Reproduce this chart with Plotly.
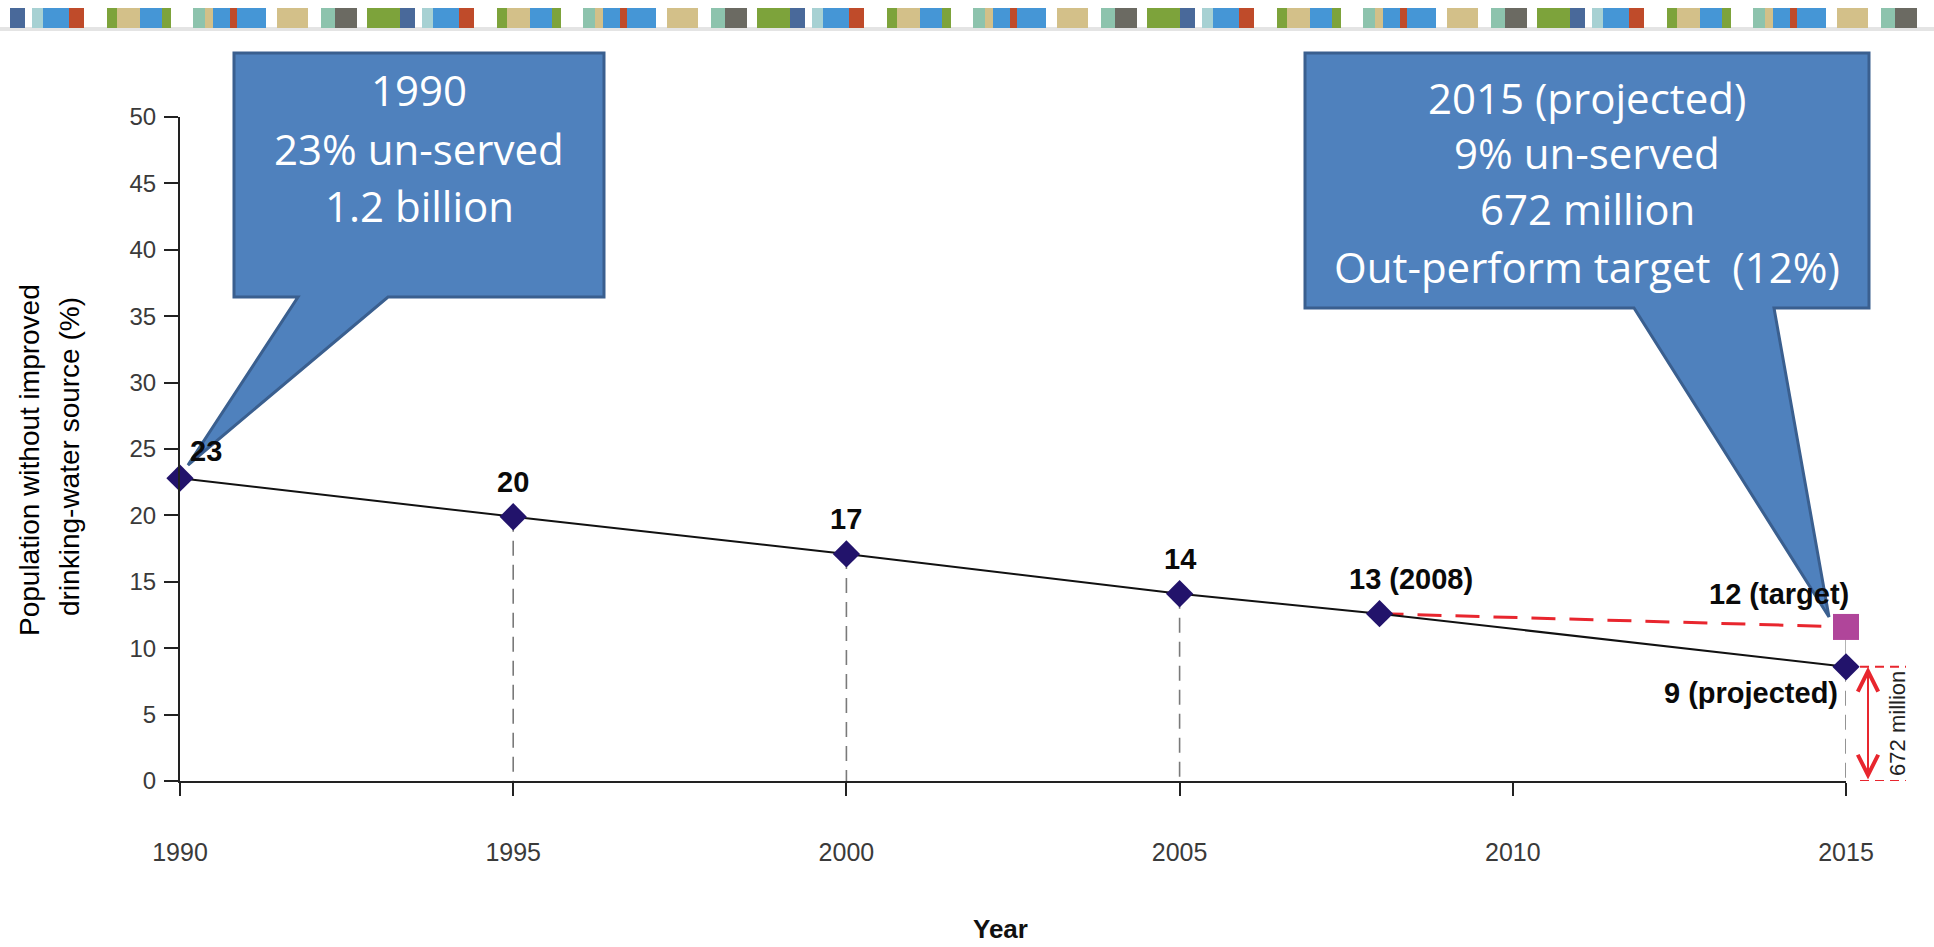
import plotly.graph_objects as go

# ---------------- data ----------------
years = [1990, 1995, 2000, 2005, 2008, 2015]
unserved_pct = [22.8, 19.9, 17.1, 14.1, 12.6, 8.6]
point_labels = ["23", "20", "17", "14", "13 (2008)", "9 (projected)"]
drop_years = [1995, 2000, 2005, 2015]
target_year = [2015]
target_pct = [11.6]
target_label = ["12 (target)"]
x_ticks = [1990, 1995, 2000, 2005, 2010, 2015]
y_ticks = [0, 5, 10, 15, 20, 25, 30, 35, 40, 45, 50]
callout_1990 = ["1990", "23% un-served", "1.2 billion"]
callout_2015 = ["2015 (projected)", "9% un-served", "672 million", "Out-perform target\u00a0 (12%)"]
bracket_label = "672 million"
y_title = ["Population without improved", "drinking-water source (%)"]
x_title = "Year"

# ---------------- styles ----------------
W, H = 1934, 947
PL, PR, PT, PB = 180, 1846, 117, 781   # plot area in pixels


def fx(px):
    return (px - PL) / (PR - PL)


def fy(py):
    return (PB - py) / (PB - PT)


NAVY = "#22136b"
MAGENTA = "#b0459a"
RED = "#e8262e"
CALL_FILL = "#4f81bd"
CALL_LINE = "#3a5f8f"
TXT_FONT = "Liberation Sans, Arial, sans-serif"
CALL_FONT = "Open Sans, Noto Sans, sans-serif"

label_style = [
    dict(xanchor="left", xshift=8, yshift=27),
    dict(xanchor="center", xshift=0, yshift=35),
    dict(xanchor="center", xshift=0, yshift=35),
    dict(xanchor="center", xshift=0, yshift=35),
    dict(xanchor="left", xshift=-33, yshift=35),
    dict(xanchor="right", xshift=-6, yshift=-26),
]
LABEL_FONT = dict(family=TXT_FONT, size=29, color="#0a0a0a", weight="bold")

fig = go.Figure()

# dashed drop lines
dx, dy = [], []
for yr, v in zip(years, unserved_pct):
    if yr in drop_years:
        dx += [yr, yr, None]
        dy += [v, 0, None]
fig.add_trace(go.Scatter(x=dx, y=dy, mode="lines", hoverinfo="skip",
                         line=dict(color="#7a7a7a", width=1.6, dash="15px,9px"),
                         showlegend=False, cliponaxis=False))

# thin connector between target and projected at 2015
fig.add_trace(go.Scatter(x=[target_year[0], years[-1]], y=[target_pct[0], unserved_pct[-1]],
                         mode="lines", line=dict(color="#9a9a9a", width=1.5),
                         showlegend=False, cliponaxis=False))

# red dashed target line from 2008 to target
fig.add_trace(go.Scatter(x=[years[4], target_year[0]], y=[unserved_pct[4], target_pct[0]],
                         mode="lines", line=dict(color=RED, width=3, dash="24px,14px"),
                         showlegend=False, cliponaxis=False))

# main series
fig.add_trace(go.Scatter(x=years, y=unserved_pct, mode="lines+markers",
                         line=dict(color="#111111", width=2),
                         marker=dict(symbol="diamond", size=21, color=NAVY,
                                     line=dict(width=0)),
                         showlegend=False, cliponaxis=False))

# target square
fig.add_trace(go.Scatter(x=target_year, y=target_pct, mode="markers",
                         marker=dict(symbol="square", size=26, color=MAGENTA,
                                     line=dict(width=0)),
                         showlegend=False, cliponaxis=False))

annotations = []
for yr, v, lab, st in zip(years, unserved_pct, point_labels, label_style):
    annotations.append(dict(x=yr, y=v, xref="x", yref="y", text=lab, showarrow=False,
                            yanchor="middle", font=LABEL_FONT, **st))
annotations.append(dict(x=target_year[0], y=target_pct[0], xref="x", yref="y",
                        text=target_label[0], showarrow=False, xanchor="right",
                        yanchor="middle", xshift=5, yshift=33, font=LABEL_FONT))

# axis titles
annotations.append(dict(x=fx(29), y=fy(460), xref="paper", yref="paper", text=y_title[0],
                        textangle=-90, showarrow=False, xanchor="center", yanchor="middle",
                        font=dict(family=TXT_FONT, size=28, color="#000")))
annotations.append(dict(x=fx(70), y=fy(457), xref="paper", yref="paper", text=y_title[1],
                        textangle=-90, showarrow=False, xanchor="center", yanchor="middle",
                        font=dict(family=TXT_FONT, size=28, color="#000")))
annotations.append(dict(x=fx(1000), y=fy(929), xref="paper", yref="paper", text=x_title,
                        showarrow=False, xanchor="center", yanchor="middle",
                        font=dict(family=TXT_FONT, size=26, color="#111", weight="bold")))

# 672 million bracket
annotations.append(dict(x=fx(1868), y=unserved_pct[-1], xref="paper", yref="y",
                        ax=0, ay=0, axref="pixel", ayref="y", text="", showarrow=True,
                        arrowside="end+start", arrowhead=5, startarrowhead=5,
                        arrowsize=2, startarrowsize=2, arrowwidth=2, arrowcolor=RED,
                        standoff=0, startstandoff=0))
annotations.append(dict(x=fx(1898), y=unserved_pct[-1] / 2, xref="paper", yref="y",
                        text=bracket_label, textangle=-90, showarrow=False,
                        xanchor="center", yanchor="middle",
                        font=dict(family=TXT_FONT, size=22, color="#222")))

shapes = []
for yv in [unserved_pct[-1], 0]:
    shapes.append(dict(type="line", xref="paper", yref="y", x0=fx(1860), x1=fx(1906),
                       y0=yv, y1=yv, line=dict(color=RED, width=2, dash="9px,6px"),
                       layer="above"))


def path(points):
    s = "M " + " L ".join(f"{fx(a):.5f},{fy(b):.5f}" for a, b in points) + " Z"
    return s


callout_left = [(234, 53), (604, 53), (604, 297), (388, 297), (188, 465), (298, 297), (234, 297)]
callout_right = [(1305, 53), (1869, 53), (1869, 308), (1774, 308), (1829, 617), (1634, 308), (1305, 308)]
for pts in (callout_left, callout_right):
    shapes.append(dict(type="path", xref="paper", yref="paper", path=path(pts),
                       fillcolor=CALL_FILL, line=dict(color=CALL_LINE, width=3), layer="above"))

for txt, py in zip(callout_1990, [90, 148, 205]):
    annotations.append(dict(x=fx(419), y=fy(py), xref="paper", yref="paper", text=txt,
                            showarrow=False, xanchor="center", yanchor="middle",
                            font=dict(family=CALL_FONT, size=42, color="white")))
for txt, py in zip(callout_2015, [97, 152, 209, 266]):
    annotations.append(dict(x=fx(1587), y=fy(py), xref="paper", yref="paper", text=txt,
                            showarrow=False, xanchor="center", yanchor="middle",
                            font=dict(family=CALL_FONT, size=42, color="white")))

# decorative stripe at top
COL = {"dkblue": "#49699a", "ltteal": "#a7d1d3", "blue": "#4596d6", "rust": "#bf4b2a",
       "green": "#7da33b", "tan": "#d3c089", "sage": "#8dc3ad", "dkgray": "#6b6a62"}
stripe = [(0, 15, "dkblue"), (22, 33, "ltteal"), (33, 59, "blue"), (59, 74, "rust"),
          (97, 107, "green"), (107, 130, "tan"), (130, 152, "blue"), (152, 161, "green"),
          (183, 195, "sage"), (195, 203, "tan"), (203, 220, "blue"), (220, 227, "rust"),
          (227, 256, "blue"), (267, 298, "tan"), (311, 325, "sage"), (325, 347, "dkgray"),
          (357, 390, "green")]
shapes.append(dict(type="rect", xref="paper", yref="paper", x0=fx(0), x1=fx(W),
                   y0=fy(31), y1=fy(27), fillcolor="#e4e4e4", line=dict(width=0)))
for k in range(5):
    base = 10 + 390 * k
    for a, b, c in stripe:
        if base + a > 1920:
            continue
        shapes.append(dict(type="rect", xref="paper", yref="paper",
                           x0=fx(base + a), x1=fx(min(base + b, W)), y0=fy(28), y1=fy(8),
                           fillcolor=COL[c], line=dict(width=0)))

fig.update_layout(
    width=W, height=H, template="none",
    margin=dict(l=PL, r=W - PR, t=PT, b=H - PB, pad=0),
    paper_bgcolor="white", plot_bgcolor="white",
    showlegend=False,
    shapes=shapes, annotations=annotations,
    xaxis=dict(range=[1990, 2015], tickvals=x_ticks, ticks="outside", ticklen=13,
               tickwidth=2, tickcolor="#222", showline=True, linecolor="#222", linewidth=2,
               showgrid=False, zeroline=False, ticklabelstandoff=35,
               tickfont=dict(family=TXT_FONT, size=25, color="#3a3a3a")),
    yaxis=dict(range=[0, 50], tickvals=y_ticks, ticks="outside", ticklen=14,
               tickwidth=2, tickcolor="#222", showline=True, linecolor="#222", linewidth=2,
               showgrid=False, zeroline=False, ticklabelstandoff=3,
               tickfont=dict(family=TXT_FONT, size=24, color="#3a3a3a")),
)

fig.write_html("out.html")
